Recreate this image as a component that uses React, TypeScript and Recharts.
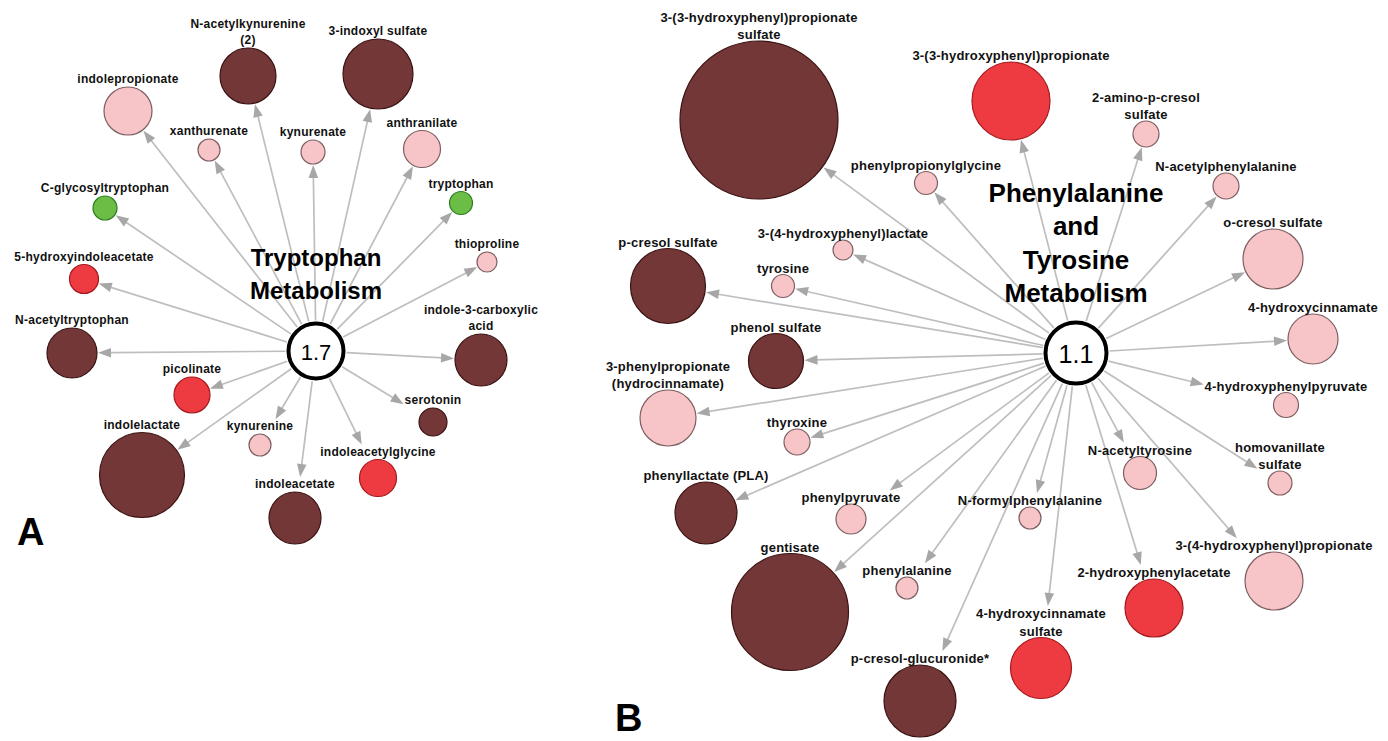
import React from "react";
import { ScatterChart, Scatter, XAxis, YAxis } from "recharts";

type Level = "sigUp" | "trendUp" | "up" | "down";

interface MetaboliteNode {
  name: string;
  x: number;
  y: number;
  size: number;
  level: Level;
}

interface PathwayHub {
  value: string;
  title: string[];
  x: number;
  y: number;
  size: number;
}

const WIDTH = 1388;
const HEIGHT = 741;

// Tryptophan metabolism (panel A)
const tryptophanNodes: MetaboliteNode[] = [
  { name: "N-acetylkynurenine\n(2)", x: 248, y: 76, size: 28, level: "sigUp" },
  { name: "3-indoxyl sulfate", x: 378, y: 74, size: 35, level: "sigUp" },
  { name: "indolepropionate", x: 128, y: 111, size: 24, level: "up" },
  { name: "xanthurenate", x: 209, y: 150, size: 11, level: "up" },
  { name: "kynurenate", x: 313, y: 152, size: 12, level: "up" },
  { name: "anthranilate", x: 422, y: 149, size: 18.5, level: "up" },
  { name: "C-glycosyltryptophan", x: 105, y: 208, size: 12, level: "down" },
  { name: "tryptophan", x: 461, y: 203, size: 11.5, level: "down" },
  { name: "thioproline", x: 487, y: 262, size: 10, level: "up" },
  { name: "5-hydroxyindoleacetate", x: 84, y: 279, size: 14.5, level: "trendUp" },
  { name: "N-acetyltryptophan", x: 72, y: 353, size: 25, level: "sigUp" },
  { name: "indole-3-carboxylic\nacid", x: 481, y: 360, size: 26, level: "sigUp" },
  { name: "picolinate", x: 192, y: 395, size: 18, level: "trendUp" },
  { name: "serotonin", x: 433, y: 422, size: 14, level: "sigUp" },
  { name: "indolelactate", x: 142, y: 475, size: 42.5, level: "sigUp" },
  { name: "kynurenine", x: 260, y: 445, size: 11, level: "up" },
  { name: "indoleacetylglycine", x: 378, y: 478, size: 18.5, level: "trendUp" },
  { name: "indoleacetate", x: 295, y: 518, size: 26, level: "sigUp" },
];

// Phenylalanine and tyrosine metabolism (panel B)
const phenylTyrosineNodes: MetaboliteNode[] = [
  { name: "3-(3-hydroxyphenyl)propionate\nsulfate", x: 759, y: 120, size: 79, level: "sigUp" },
  { name: "3-(3-hydroxyphenyl)propionate", x: 1011, y: 101, size: 39, level: "trendUp" },
  { name: "2-amino-p-cresol\nsulfate", x: 1146, y: 134, size: 13, level: "up" },
  { name: "phenylpropionylglycine", x: 926, y: 183, size: 11.5, level: "up" },
  { name: "N-acetylphenylalanine", x: 1226, y: 186, size: 13, level: "up" },
  { name: "3-(4-hydroxyphenyl)lactate", x: 843, y: 250, size: 10, level: "up" },
  { name: "o-cresol sulfate", x: 1273, y: 259, size: 30, level: "up" },
  { name: "p-cresol sulfate", x: 668, y: 286, size: 37.5, level: "sigUp" },
  { name: "tyrosine", x: 783, y: 286, size: 11.5, level: "up" },
  { name: "4-hydroxycinnamate", x: 1313, y: 339, size: 25, level: "up" },
  { name: "phenol sulfate", x: 776, y: 361, size: 27.5, level: "sigUp" },
  { name: "3-phenylpropionate\n(hydrocinnamate)", x: 668, y: 418, size: 28, level: "up" },
  { name: "4-hydroxyphenylpyruvate", x: 1286, y: 405, size: 12.5, level: "up" },
  { name: "thyroxine", x: 797, y: 442, size: 13, level: "up" },
  { name: "N-acetyltyrosine", x: 1140, y: 473, size: 16.5, level: "up" },
  { name: "homovanillate\nsulfate", x: 1280, y: 483, size: 12, level: "up" },
  { name: "phenyllactate (PLA)", x: 706, y: 513, size: 31, level: "sigUp" },
  { name: "phenylpyruvate", x: 851, y: 519, size: 15, level: "up" },
  { name: "N-formylphenylalanine", x: 1030, y: 518, size: 11, level: "up" },
  { name: "gentisate", x: 790, y: 612, size: 58.5, level: "sigUp" },
  { name: "phenylalanine", x: 907, y: 588, size: 11, level: "up" },
  { name: "3-(4-hydroxyphenyl)propionate", x: 1274, y: 581, size: 29, level: "up" },
  { name: "2-hydroxyphenylacetate", x: 1154, y: 608, size: 29, level: "trendUp" },
  { name: "4-hydroxycinnamate\nsulfate", x: 1041, y: 668, size: 30.5, level: "trendUp" },
  { name: "p-cresol-glucuronide*", x: 920, y: 701, size: 36, level: "sigUp" },
];

const pathwayHubs: PathwayHub[] = [
  { value: "1.7", title: ["Tryptophan", "Metabolism"], x: 316, y: 351, size: 27.5 },
  { value: "1.1", title: ["Phenylalanine", "and", "Tyrosine", "Metabolism"], x: 1076, y: 353, size: 30.5 },
];

const panelTags = [
  { tag: "A", x: 17, y: 545 },
  { tag: "B", x: 615, y: 731 },
];

const LEVEL_FILL: Record<Level, string> = {
  sigUp: "#733737",
  trendUp: "#ee3b41",
  up: "#f7c4c8",
  down: "#6cbd45",
};

const LEVEL_STROKE: Record<Level, string> = {
  sigUp: "#3b1212",
  trendUp: "#a3191d",
  up: "#7d5f61",
  down: "#2f7d22",
};

// label / title styling per panel
const PANEL_STYLE = [
  { labelSize: 12, lineHeight: 16.5, gap: 8, spacing: 0.25, valueSize: 22, titleSize: 24, titleLead: 33, titleGap: 61 },
  { labelSize: 13, lineHeight: 17.5, gap: 6.5, spacing: 0.2, valueSize: 25, titleSize: 26, titleLead: 33.3, titleGap: 60 },
];

const FONT = '"Liberation Sans", Arial, Helvetica, sans-serif';
const EDGE_COLOR = "#bebebe";
const ARROW_COLOR = "#a7a7a7";
const ARROW_LEN = 13;
const ARROW_HALF = 4.8;

let measureCtx: CanvasRenderingContext2D | null = null;
function textWidth(s: string, size: number, spacing: number) {
  if (!measureCtx) measureCtx = document.createElement("canvas").getContext("2d");
  if (!measureCtx) return s.length * size * 0.58;
  measureCtx.font = `bold ${size}px ${FONT}`;
  return measureCtx.measureText(s).width + spacing * s.length;
}

// centre y of label line i (of n), stacked just above the circle
function labelLineY(cy: number, r: number, i: number, n: number, st: (typeof PANEL_STYLE)[number]) {
  return cy - r - st.gap - (n - 1 - i) * st.lineHeight;
}

// distance along a ray to the first hit of an axis-aligned box
function rayBox(ox: number, oy: number, ux: number, uy: number, x0: number, y0: number, x1: number, y1: number) {
  let tmin = -Infinity;
  let tmax = Infinity;
  const axes: [number, number, number, number][] = [
    [ox, ux, x0, x1],
    [oy, uy, y0, y1],
  ];
  for (const [o, d, lo, hi] of axes) {
    if (Math.abs(d) < 1e-9) {
      if (o < lo || o > hi) return Infinity;
    } else {
      const a = (lo - o) / d;
      const b = (hi - o) / d;
      tmin = Math.max(tmin, Math.min(a, b));
      tmax = Math.min(tmax, Math.max(a, b));
    }
  }
  if (tmax < Math.max(tmin, 0)) return Infinity;
  return tmin;
}

function makeEdge(hub: PathwayHub, node: MetaboliteNode, panel: number) {
  const st = PANEL_STYLE[panel];
  return (props: any) => {
    const pts = props.points;
    if (!pts || pts.length < 2) return <g />;
    const a = pts[0];
    const b = pts[1];
    const dx = b.x - a.x;
    const dy = b.y - a.y;
    const len = Math.hypot(dx, dy);
    const ux = dx / len;
    const uy = dy / len;

    // arrow stops at the circle, or earlier at the node's label
    let tip = len - node.size - 1;
    const lines = node.name.split("\n");
    lines.forEach((ln, i) => {
      const w = textWidth(ln, st.labelSize, st.spacing);
      const ly = labelLineY(b.y, node.size, i, lines.length, st);
      const h = st.labelSize * 0.5;
      const t = rayBox(a.x, a.y, ux, uy, b.x - w / 2, ly - h, b.x + w / 2, ly + h);
      if (t > hub.size && t < tip) tip = t - 1;
    });

    const start = hub.size + 3;
    const base = tip - ARROW_LEN;
    const tx = a.x + ux * tip;
    const ty = a.y + uy * tip;
    const bx = a.x + ux * base;
    const by = a.y + uy * base;
    const px = -uy * ARROW_HALF;
    const py = ux * ARROW_HALF;
    return (
      <g>
        <line
          x1={a.x + ux * start}
          y1={a.y + uy * start}
          x2={bx + ux * 2}
          y2={by + uy * 2}
          stroke={EDGE_COLOR}
          strokeWidth={1.7}
        />
        <polygon points={`${tx},${ty} ${bx + px},${by + py} ${bx - px},${by - py}`} fill={ARROW_COLOR} />
      </g>
    );
  };
}

const NodeShape = (props: any) => {
  const { cx, cy, payload } = props;
  const st = PANEL_STYLE[payload.panel];
  const lines: string[] = payload.name.split("\n");
  return (
    <g>
      <circle
        cx={cx}
        cy={cy}
        r={payload.size}
        fill={LEVEL_FILL[payload.level as Level]}
        stroke={LEVEL_STROKE[payload.level as Level]}
        strokeWidth={1.2}
      />
      {lines.map((ln, i) => (
        <text
          key={i}
          x={cx}
          y={labelLineY(cy, payload.size, i, lines.length, st)}
          textAnchor="middle"
          dominantBaseline="central"
          fontFamily={FONT}
          fontSize={st.labelSize}
          fontWeight="bold"
          letterSpacing={st.spacing}
          fill="#111"
        >
          {ln}
        </text>
      ))}
    </g>
  );
};

const HubShape = (props: any) => {
  const { cx, cy, payload } = props;
  const st = PANEL_STYLE[payload.panel];
  const title: string[] = payload.title;
  return (
    <g>
      <circle cx={cx} cy={cy} r={payload.size} fill="#fff" stroke="#000" strokeWidth={4} />
      <text
        x={cx}
        y={cy + 1}
        textAnchor="middle"
        dominantBaseline="central"
        fontFamily={FONT}
        fontSize={st.valueSize}
        fill="#000"
      >
        {payload.value}
      </text>
      {title.map((ln, i) => (
        <text
          key={ln}
          x={cx}
          y={cy - st.titleGap - (title.length - 1 - i) * st.titleLead}
          textAnchor="middle"
          dominantBaseline="central"
          fontFamily={FONT}
          fontSize={st.titleSize}
          fontWeight="bold"
          fill="#000"
        >
          {ln}
        </text>
      ))}
    </g>
  );
};

const TagShape = (props: any) => {
  const { cx, cy, payload } = props;
  return (
    <text x={cx} y={cy} fontFamily={FONT} fontSize={38} fontWeight="bold" fill="#000">
      {payload.tag}
    </text>
  );
};

const panels = [
  { hub: pathwayHubs[0], nodes: tryptophanNodes },
  { hub: pathwayHubs[1], nodes: phenylTyrosineNodes },
];

const nodeData = panels.flatMap((p, panel) => p.nodes.map((n) => ({ ...n, panel })));
const hubData = pathwayHubs.map((h, panel) => ({ ...h, panel }));

export default function App() {
  return (
    <div style={{ position: "absolute", left: 0, top: 0, background: "#fff" }}>
      <ScatterChart width={WIDTH} height={HEIGHT} margin={{ top: 0, right: 0, bottom: 0, left: 0 }}>
        <XAxis type="number" dataKey="x" domain={[0, WIDTH]} hide />
        <YAxis type="number" dataKey="y" domain={[0, HEIGHT]} reversed hide />
        {panels.flatMap((p, panel) =>
          p.nodes.map((n) => (
            <Scatter
              key={`edge-${n.name}`}
              data={[
                { x: p.hub.x, y: p.hub.y },
                { x: n.x, y: n.y },
              ]}
              line={makeEdge(p.hub, n, panel)}
              shape={() => <g />}
              isAnimationActive={false}
            />
          )),
        )}
        <Scatter data={nodeData} shape={NodeShape} isAnimationActive={false} />
        <Scatter data={hubData} shape={HubShape} isAnimationActive={false} />
        <Scatter data={panelTags} shape={TagShape} isAnimationActive={false} />
      </ScatterChart>
    </div>
  );
}
